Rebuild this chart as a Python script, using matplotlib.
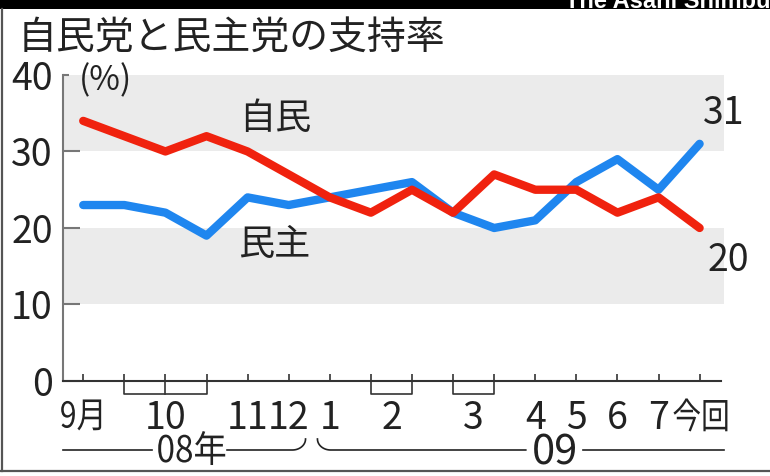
import matplotlib
matplotlib.use('Agg')
import matplotlib.pyplot as plt
import matplotlib.transforms as mtransforms
from matplotlib.font_manager import FontProperties
from matplotlib.textpath import TextPath
from matplotlib.patches import PathPatch
import numpy as np

plt.rcParams['font.family'] = ['Liberation Sans Narrow', 'Noto Sans CJK JP', 'DejaVu Sans']
CJK = FontProperties(family='Noto Sans CJK JP')

# survey points, Sep 2008 -> latest
ldp = [34, 32, 30, 32, 30, 27, 24, 22, 25, 22, 27, 25, 25, 22, 24, 20]   # 自民
dpj = [23, 23, 22, 19, 24, 23, 24, 25, 26, 22, 20, 21, 26, 29, 25, 31]   # 民主
month_labels = ['9月', '10', '11', '12', '1', '2', '3', '4', '5', '6', '7', '今回']
month_pos = [0, 2, 4, 5, 6, 7.5, 9.5, 11, 12, 13, 14, 15]
brackets = [(1, 3), (7, 8), (9, 10)]   # months with several surveys
yticks = [0, 10, 20, 30, 40]

RED = '#f0220e'
BLUE = '#1f86ef'
INK = '#222222'
x = np.arange(len(ldp))

fig = plt.figure(figsize=(7.7, 4.76), dpi=100)
ax = fig.add_axes([0.0814, 0.1996, 0.8592, 0.6429])
ax.set_xlim(-0.5, 15.6)
ax.set_ylim(0, 40)


def squeezed(x0, y0, s, h_px, w_px):
    # condensed CJK text fitted to a pixel box centred on (x0, y0) in data coords
    tp = TextPath((0, 0), s, size=20, prop=CJK)
    bb = tp.get_extents()
    tr = (mtransforms.Affine2D().translate(-(bb.x0 + bb.x1) / 2, -(bb.y0 + bb.y1) / 2)
          .scale(w_px / bb.width, h_px / bb.height)
          + mtransforms.ScaledTranslation(x0, y0, ax.transData))
    ax.add_patch(PathPatch(tp, transform=tr, color=INK, lw=0, clip_on=False))


# grey bands
ax.axhspan(10, 20, color='#ebebeb', lw=0, zorder=0)
ax.axhspan(30, 40, color='#ebebeb', lw=0, zorder=0)

ax.plot(x, dpj, color=BLUE, lw=6, solid_joinstyle='round', solid_capstyle='round', zorder=3)
ax.plot(x, ldp, color=RED, lw=6, solid_joinstyle='round', solid_capstyle='round', zorder=4)

for s in ['top', 'right']:
    ax.spines[s].set_visible(False)
ax.spines['left'].set_color('#777777')
ax.spines['left'].set_linewidth(1.5)
ax.spines['bottom'].set_color('#333333')
ax.spines['bottom'].set_linewidth(1.5)
ax.spines['bottom'].set_bounds(-0.5, 15.53)

ax.set_yticks(yticks)
ax.set_yticklabels([str(v) for v in yticks])
ax.tick_params(axis='y', direction='in', length=12, width=1.5, color='#777777',
               pad=7, labelsize=27, labelcolor=INK)
ax.yaxis.get_major_ticks()[-1].tick1line.set_markersize(4)
ax.set_xticks(x)
ax.set_xticklabels([])
ax.tick_params(axis='x', direction='in', length=5, width=1.2, color='#333333')

# month labels and brackets
for lab, p in zip(month_labels, month_pos):
    if lab.isdigit():
        ax.text(p, -6.27, lab, ha='center', va='baseline', fontsize=27, color=INK, clip_on=False)
    elif lab == '9月':
        squeezed(p - 0.05, -4.44, lab, 31, 40)
    else:
        squeezed(p + 0.02, -4.44, lab, 33, 54)
for a, b in brackets:
    ax.plot([a, a, b, b], [0, -1.7, -1.7, 0], color='#333333', lw=1.2, clip_on=False)
    for m in range(a + 1, b):
        ax.plot([m, m], [0, -1.7], color='#333333', lw=1.2, clip_on=False)

# year row
yl = -9.02
rx, ry = 0.32, 1.44
t = np.linspace(0, np.pi / 2, 20)
ax.plot([-0.5, 1.68], [yl, yl], color=INK, lw=1.2, clip_on=False)
squeezed(2.64, -8.76, '08年', 34, 67)
x_end = 5.41
ax.plot(np.r_[3.5, x_end - rx + rx * np.sin(t)], np.r_[yl, yl + ry - ry * np.cos(t)],
        color=INK, lw=1.2, clip_on=False)
x_st = 5.7
ax.plot(np.r_[x_st + rx - rx * np.sin(t[::-1]), 10.77], np.r_[yl + ry - ry * np.cos(t[::-1]), yl],
        color=INK, lw=1.2, clip_on=False)
ax.text(11.47, -10.98, '09', ha='center', va='baseline', fontsize=30, color=INK, clip_on=False)
ax.plot([12.16, 15.6], [yl, yl], color=INK, lw=1.2, clip_on=False)

# annotations
ax.text(0.53, 39.3, '(%)', ha='center', va='center', fontsize=24, color=INK)
ax.text(4.68, 34.2, '自民', ha='center', va='center', fontsize=26, color=INK)
ax.text(4.65, 17.8, '民主', ha='center', va='center', fontsize=26, color=INK)
ax.text(15.6, dpj[-1] + 4, str(dpj[-1]), ha='center', va='center', fontsize=27,
        color=INK, clip_on=False)
ax.text(15.7, ldp[-1] - 4.2, str(ldp[-1]), ha='center', va='center', fontsize=27,
        color=INK, clip_on=False)

# frame, banner and title in pixel space
ov = fig.add_axes([0, 0, 1, 1], zorder=10)
ov.set_xlim(0, 770)
ov.set_ylim(476, 0)
ov.axis('off')
ov.patch.set_visible(False)
ov.add_patch(plt.Rectangle((0, 0), 770, 9, color='black', lw=0))
ov.text(565, 8, 'The Asahi Shimbun', ha='left', va='baseline', fontsize=17,
        fontweight='bold', color='white', family='Liberation Sans')
ov.plot([1.5, 1.5], [9, 471], color='#555555', lw=1.6)
ov.plot([0, 770], [471, 471], color='#555555', lw=1.6)
ov.text(18, 38, '自民党と民主党の支持率', ha='left', va='center', fontsize=28,
        color=INK, family='Noto Sans CJK JP')

fig.savefig('out.png', dpi=100)
